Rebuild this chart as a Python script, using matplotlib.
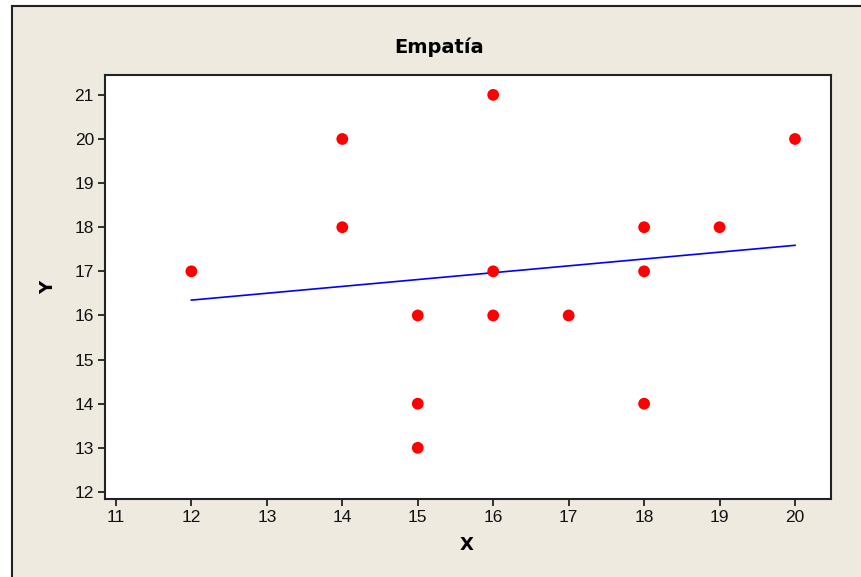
import numpy as np
import matplotlib.pyplot as plt
from matplotlib.patches import Rectangle
from matplotlib.lines import Line2D

# Puntuaciones observadas
x = [12, 14, 14, 15, 15, 15, 16, 16, 16, 17, 18, 18, 18, 19, 20]
y = [17, 20, 18, 16, 14, 13, 21, 17, 16, 16, 18, 17, 14, 18, 20]

xticks = list(range(11, 21))
yticks = list(range(12, 22))

W, H = 861, 577
fig = plt.figure(figsize=(W / 100, H / 100), dpi=100)
fig.patch.set_facecolor('white')

# marco beige con borde superior e izquierdo
fx0, fy1 = 12 / W, 1 - 6 / H
fig.patches.append(Rectangle((fx0, 0), 1 - fx0, fy1, transform=fig.transFigure,
                             facecolor='#eeeae0', edgecolor='none', zorder=-2))
fig.lines.append(Line2D([fx0, 1], [fy1, fy1], transform=fig.transFigure, color='#222222', lw=1.5, zorder=-1))
fig.lines.append(Line2D([fx0, fx0], [0, fy1], transform=fig.transFigure, color='#222222', lw=1.5, zorder=-1))

ax = fig.add_axes([105 / W, 1 - 499 / H, (831 - 105) / W, (499 - 75) / H])
ax.set_facecolor('white')

# recta de regresión
b, a = np.polyfit(x, y, 1)
xl = np.array([min(x), max(x)])
ax.plot(xl, a + b * xl, color='#0000ff', lw=1.2, zorder=2)

ax.scatter(x, y, s=72, color='#ff0000', edgecolors='none', zorder=3)

ax.set_xlim(10.855, 20.477)
ax.set_ylim(11.84, 21.45)
ax.set_xticks(xticks)
ax.set_yticks(yticks)
ax.tick_params(labelsize=12.5, length=5, width=1.3, color='#222222', labelcolor='#111111', pad=3)
for lab in ax.get_xticklabels() + ax.get_yticklabels():
    lab.set_fontfamily('Liberation Sans')
for s in ax.spines.values():
    s.set_linewidth(1.5)
    s.set_color('#222222')

fig.text(439 / W, 1 - 47 / H, 'Empatía', fontsize=14, fontweight='bold', ha='center', va='center')
fig.text(467 / W, 1 - 545 / H, 'X', fontsize=13, fontweight='bold', ha='center', va='center')
fig.text(48 / W, 1 - 287 / H, 'Y', fontsize=13, fontweight='bold', ha='center', va='center', rotation=90)

fig.savefig('out.png', dpi=100, facecolor=fig.get_facecolor())
